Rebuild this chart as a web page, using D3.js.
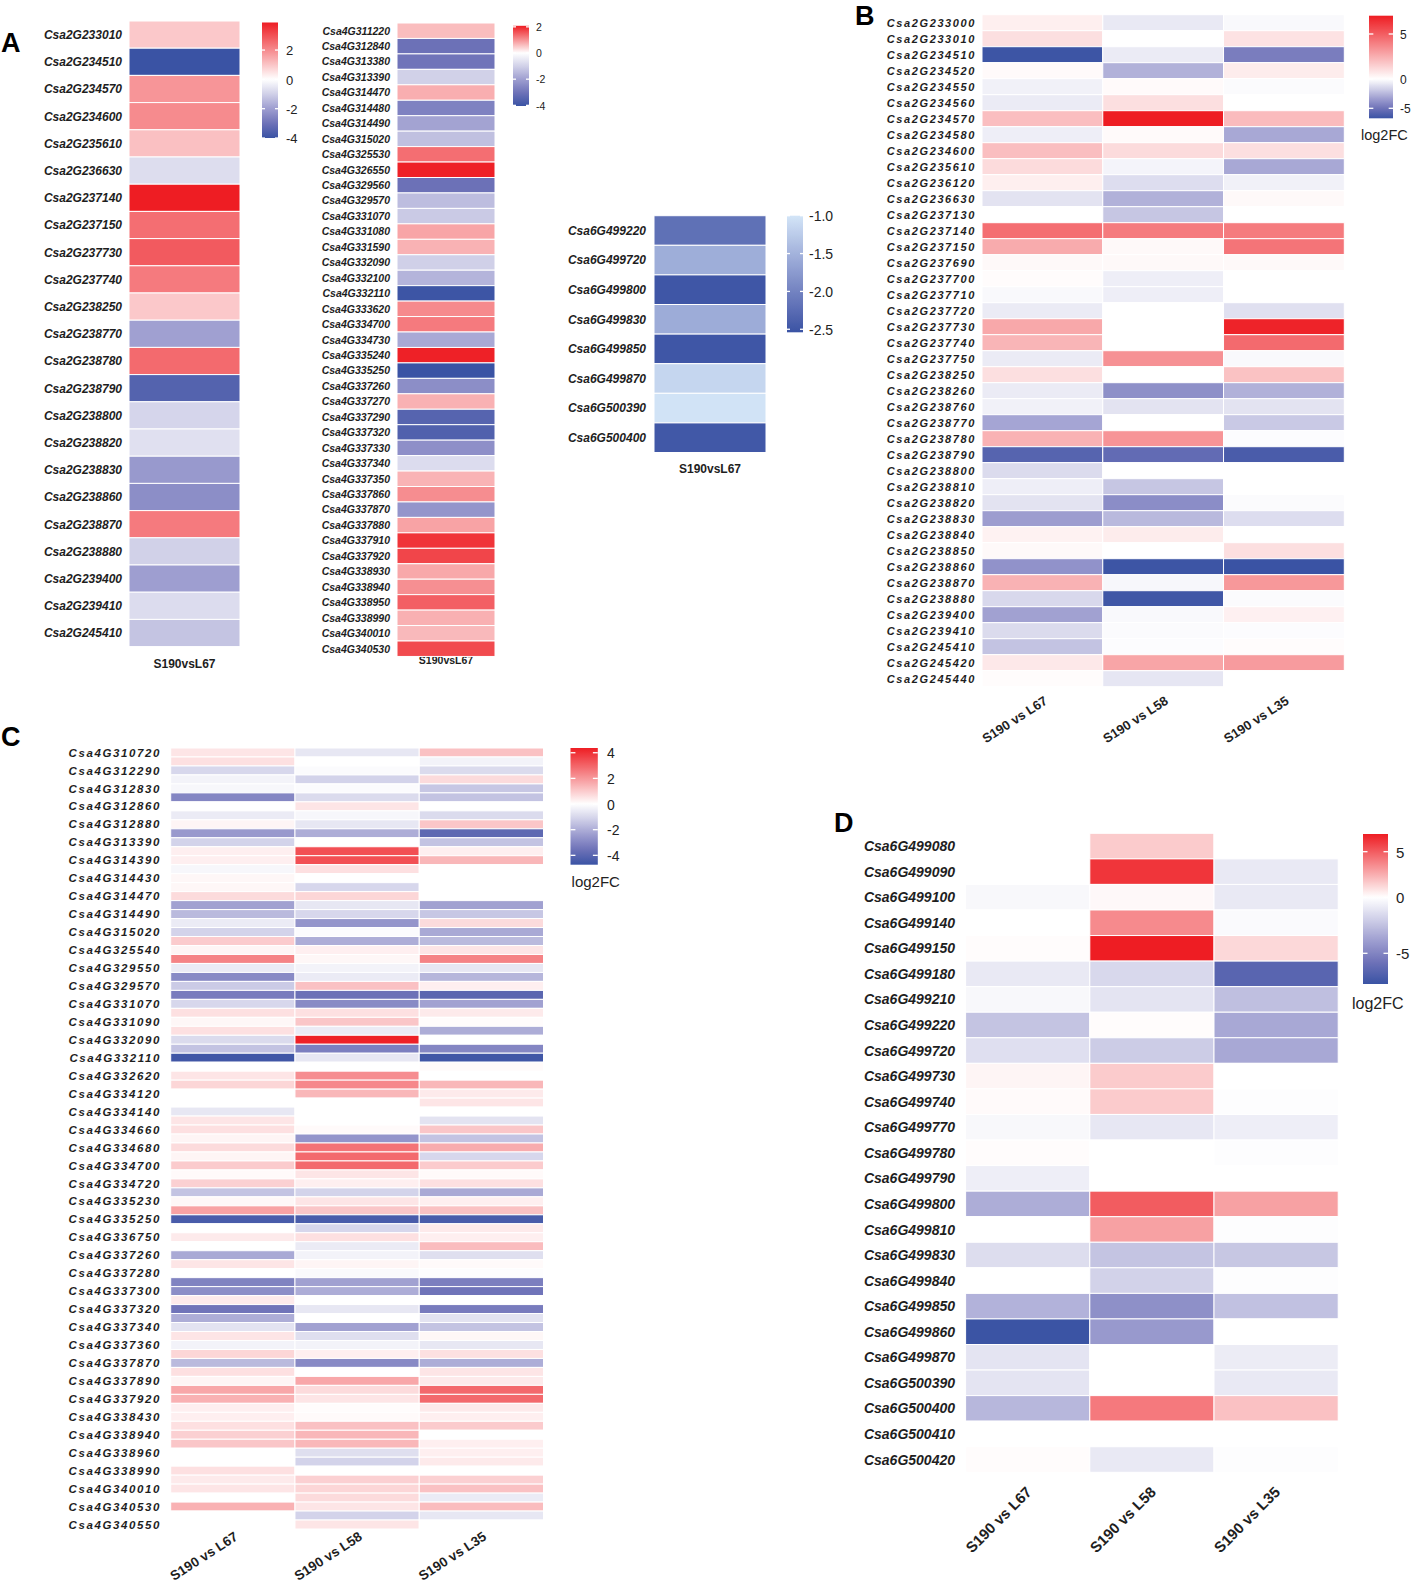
<!DOCTYPE html>
<html><head><meta charset="utf-8">
<script src="https://cdn.jsdelivr.net/npm/d3@7"></script>
<style>body{margin:0;background:#fff} svg{display:block} text{font-family:"Liberation Sans",Arial,sans-serif}</style>
</head><body><svg id="c" width="1412" height="1586"></svg>
<script>
// ---------------- DATA ----------------
const singleComparison = ["S190vsL67"];
const comparisons = ["S190 vs L67", "S190 vs L58", "S190 vs L35"];

const aGenes1 = ["Csa2G233010","Csa2G234510","Csa2G234570","Csa2G234600","Csa2G235610","Csa2G236630","Csa2G237140","Csa2G237150","Csa2G237730","Csa2G237740","Csa2G238250","Csa2G238770","Csa2G238780","Csa2G238790","Csa2G238800","Csa2G238820","Csa2G238830","Csa2G238860","Csa2G238870","Csa2G238880","Csa2G239400","Csa2G239410","Csa2G245410"];
const aVals1 = [0.94,-4.0,1.82,2.0,1.08,-0.72,3.88,2.49,2.83,2.28,0.94,-1.96,2.56,-3.5,-0.89,-0.67,-2.12,-2.37,2.28,-0.98,-2.0,-0.75,-1.25];
const aTicks1 = [2,0,-2,-4];
const aLim1 = [-4.0, 3.88];

const aGenes2 = ["Csa4G311220","Csa4G312840","Csa4G313380","Csa4G313390","Csa4G314470","Csa4G314480","Csa4G314490","Csa4G315020","Csa4G325530","Csa4G326550","Csa4G329560","Csa4G329570","Csa4G331070","Csa4G331080","Csa4G331590","Csa4G332090","Csa4G332100","Csa4G332110","Csa4G333620","Csa4G334700","Csa4G334730","Csa4G335240","Csa4G335250","Csa4G337260","Csa4G337270","Csa4G337290","Csa4G337320","Csa4G337330","Csa4G337340","Csa4G337350","Csa4G337860","Csa4G337870","Csa4G337880","Csa4G337910","Csa4G337920","Csa4G338930","Csa4G338940","Csa4G338950","Csa4G338990","Csa4G340010","Csa4G340530"];
const aVals2 = [0.61,-3.08,-3.0,-1.0,0.75,-2.67,-1.92,-1.33,1.33,2.04,-3.07,-1.4,-1.13,0.83,0.71,-1.02,-1.58,-4.0,1.08,1.22,-1.8,2.04,-4.05,-2.4,0.72,-3.5,-3.6,-2.36,-0.76,0.7,1.05,-2.24,0.85,1.87,1.71,0.8,1.03,1.47,0.73,0.64,1.67];
const aTicks2 = [2,0,-2,-4];
const aLim2 = [-4.05, 2.08];

const aGenes3 = ["Csa6G499220","Csa6G499720","Csa6G499800","Csa6G499830","Csa6G499850","Csa6G499870","Csa6G500390","Csa6G500400"];
const aVals3 = [-2.2,-1.55,-2.5,-1.57,-2.5,-1.15,-1.02,-2.48];
const aTicks3 = [-1.0,-1.5,-2.0,-2.5];
const aLim3 = [-2.54, -1.0];

const bGenes = ["Csa2G233000","Csa2G233010","Csa2G234510","Csa2G234520","Csa2G234550","Csa2G234560","Csa2G234570","Csa2G234580","Csa2G234600","Csa2G235610","Csa2G236120","Csa2G236630","Csa2G237130","Csa2G237140","Csa2G237150","Csa2G237690","Csa2G237700","Csa2G237710","Csa2G237720","Csa2G237730","Csa2G237740","Csa2G237750","Csa2G238250","Csa2G238260","Csa2G238760","Csa2G238770","Csa2G238780","Csa2G238790","Csa2G238800","Csa2G238810","Csa2G238820","Csa2G238830","Csa2G238840","Csa2G238850","Csa2G238860","Csa2G238870","Csa2G238880","Csa2G239400","Csa2G239410","Csa2G245410","Csa2G245420","Csa2G245440"];
const bL67 = [0.5,1.0,-6.6,0.15,-0.5,-0.7,2.0,-0.6,2.0,1.1,0.5,-1.0,0,4.5,2.6,0.2,0.1,-0.2,-0.7,2.7,2.3,-0.7,1.0,-0.7,-0.5,-3.1,2.4,-5.8,-1.3,-0.6,-1.0,-3.4,0.4,0.2,-3.8,2.4,-1.4,-3.25,-1.3,-2.1,0.7,0.1];
const bL58 = [-0.8,0,-0.7,-2.7,0.15,1.0,7.0,0.15,1.1,-0.4,-1.2,-2.7,-2.0,4.1,0.2,0.2,-0.6,-0.6,0,0,0,3.4,0,-3.9,-1.0,0,3.3,-5.4,0,-2.0,-4.0,-2.45,0.6,0,-6.6,-0.3,-6.5,-0.2,-0.15,-0.1,2.8,-0.9];
const bL35 = [-0.2,0.9,-4.6,0.6,-0.15,0,2.1,-3.0,1.0,-3.0,-0.5,0.2,0,4.1,4.3,0.2,0,0,-1.1,6.8,4.6,-0.2,1.9,-2.7,-1.0,-1.9,-0.1,-6.2,0,0,-0.15,-1.2,0,1.0,-6.7,3.2,-0.15,0.45,-0.1,0.1,3.1,0];
const bTicks = [5,0,-5];
const bLim = [-6.7, 7.0];

const cLabels = ["Csa4G310720","Csa4G312290","Csa4G312830","Csa4G312860","Csa4G312880","Csa4G313390","Csa4G314390","Csa4G314430","Csa4G314470","Csa4G314490","Csa4G315020","Csa4G325540","Csa4G329550","Csa4G329570","Csa4G331070","Csa4G331090","Csa4G332090","Csa4G332110","Csa4G332620","Csa4G334120","Csa4G334140","Csa4G334660","Csa4G334680","Csa4G334700","Csa4G334720","Csa4G335230","Csa4G335250","Csa4G336750","Csa4G337260","Csa4G337280","Csa4G337300","Csa4G337320","Csa4G337340","Csa4G337360","Csa4G337870","Csa4G337890","Csa4G337920","Csa4G338430","Csa4G338940","Csa4G338960","Csa4G338990","Csa4G340010","Csa4G340530","Csa4G340550"];
const cL67 = [0.5,0.6,-1.0,-0.3,-0.2,-3.0,0,-0.5,0.2,-2.5,-1.1,0.3,0.3,-0.2,0.15,0.15,0.7,-2.3,-1.7,-0.5,-1.1,1.0,0.2,2.4,-0.5,-2.9,-1.3,-3.3,-1.0,0.6,0.15,0.6,-0.9,-1.5,-4.6,0,0.5,0.8,0,0,-0.6,0.5,0.6,0.2,0.7,0.2,1.0,0.1,0.9,-1.5,0.15,1.8,-4.4,0,0.4,0,-2.1,0.5,0,-3.1,-2.8,0.4,-3.5,-2.0,-0.7,0.5,-0.3,0.8,-1.7,0.6,0.2,1.7,1.5,0.3,0.3,0.6,0.9,1.1,0,0,0.6,0.4,0.5,0,1.5,0,0];
const cL58 = [-0.6,0,-0.1,-1.1,-0.1,-0.9,0.5,-0.2,-0.6,-2.0,0,3.4,3.4,0.6,0,-1.0,0.8,-0.6,-1.0,-2.6,-0.1,-2.0,0.3,0.15,-0.3,-0.5,1.2,-3.6,-2.9,0.6,1.1,-0.5,4.3,-3.2,-0.6,0,2.2,2.3,1.4,0,0,0,0.1,-2.6,2.7,2.9,2.9,0.5,0.3,-1.1,0.5,1.1,-4.4,-1.0,0.6,-0.5,-0.3,0.2,-0.15,-2.3,-2.0,0,-0.6,0,-2.3,-0.8,-0.3,0.3,-2.9,0,1.7,0.7,0.5,0.05,0.1,1.2,1.4,1.4,-0.8,-1.1,0,0.9,0.8,0.7,0.5,-1.1,0.5];
const cL35 = [1.2,-0.3,-0.9,0.7,-1.4,-1.5,0,-0.9,1.1,-3.9,-1.5,0.3,1.4,0,0,0,0,-2.3,-1.4,0.7,-2.1,-1.7,0.5,2.4,-0.6,-1.8,0.3,-4.0,-2.3,0.4,0.05,-2.0,0,-3.0,-4.6,0.1,0,1.4,0.4,0.5,0,-0.7,1.1,-1.5,1.6,-1.0,1.0,0.1,0.6,-2.1,0.3,1.2,-4.4,0.4,0.3,1.3,-0.8,0.1,-0.05,-3.2,-3.5,0,-3.3,-0.7,-1.5,0.15,-0.6,0.6,-2.0,0.5,0.4,2.9,2.9,0.4,0.3,1.0,0,0.3,0.3,0.4,0,0.9,1.2,-0.5,1.3,-0.6,0];
const cTicks = [4,2,0,-2,-4];
const cLim = [-4.73, 4.37];

const dGenes = ["Csa6G499080","Csa6G499090","Csa6G499100","Csa6G499140","Csa6G499150","Csa6G499180","Csa6G499210","Csa6G499220","Csa6G499720","Csa6G499730","Csa6G499740","Csa6G499770","Csa6G499780","Csa6G499790","Csa6G499800","Csa6G499810","Csa6G499830","Csa6G499840","Csa6G499850","Csa6G499860","Csa6G499870","Csa6G500390","Csa6G500400","Csa6G500410","Csa6G500420"];
const dL67 = [0,0,-0.3,0,0.1,-0.9,-0.3,-2.4,-1.3,0.3,0.15,-0.3,0.1,-0.7,-3.3,0,-1.4,0,-3.1,-7.7,-1.1,-1.1,-2.9,0,0.1];
const dL58 = [1.6,6.2,0.2,3.6,6.94,-1.6,-1.1,0.1,-2.1,1.6,1.6,-1.0,0,0,5.0,2.9,-2.4,-1.85,-4.5,-4.1,0,0,4.1,0,-0.9];
const dL35 = [0,-0.9,-0.9,-0.2,1.2,-6.6,-2.6,-3.5,-3.5,0,-0.1,-0.7,-0.1,0,2.9,-0.1,-2.3,-0.1,-2.5,0,-0.8,-0.9,1.9,0,-0.1];
const dTicks = [5,0,-5];
const dLim = [-7.74, 6.94];

// ---------------- HELPERS ----------------
const svg = d3.select("#c");
svg.append("rect").attr("width",1412).attr("height",1586).attr("fill","#fff");
const defs = svg.append("defs");
const FONT = '"Liberation Sans", Arial, sans-serif';
const INK = "#1e1e1e";
let gid = 0;

function divColor(lo, hi){
  return d3.scaleLinear()
    .domain([lo, lo*0.75, lo*0.5, lo*0.25, 0, hi*0.5, hi])
    .range(["#3A53A4","#6E72B8","#9E9ED0","#D0D0E8","#FFFFFF","#F68E91","#EE1D23"])
    .clamp(true);
}
function seqBlue(lo, hi){
  return d3.scaleLinear().domain([lo, hi]).range(["#3A53A4","#D3E5F7"])
    .interpolate(d3.interpolateLab).clamp(true);
}

function drawHeatmap(o){
  const g = svg.append("g");
  const y = d3.scaleBand().domain(o.rowKeys).range([o.y0, o.y0 + o.rowH*o.rowKeys.length]);
  const x = d3.scaleBand().domain(o.cols).range([o.x0, o.x1]);
  const xa = g.append("g").attr("transform",`translate(0,${o.xLabY})`)
    .call(d3.axisBottom(x).tickSize(0));
  xa.select(".domain").remove();
  xa.attr("font-family", FONT).attr("font-size", o.xFont);
  xa.selectAll("text").attr("y",0).attr("dy",0)
    .attr("fill", INK).attr("font-weight", "bold");
  if (o.xRot){
    xa.selectAll("text").attr("text-anchor","end")
      .attr("transform",`translate(${o.xDx},0) rotate(${-o.xRot})`);
  }
  o.series.forEach((vals, ci) => {
    g.append("g").selectAll("rect").data(vals).join("rect")
      .attr("x", x(o.cols[ci]))
      .attr("y", (d,i) => y(o.rowKeys[i]))
      .attr("width", x.bandwidth())
      .attr("height", y.bandwidth())
      .attr("fill", d => o.color(d))
      .attr("stroke", "#fff")
      .attr("stroke-width", o.sw || 1);
  });
  let ax = d3.axisLeft(y).tickSize(0).tickPadding(0);
  if (o.tickValues) ax = ax.tickValues(o.tickValues);
  if (o.tickFormat) ax = ax.tickFormat(o.tickFormat);
  const ya = g.append("g").attr("transform",`translate(${o.labelEnd},0)`).call(ax);
  ya.select(".domain").remove();
  ya.attr("font-family", FONT).attr("font-size", o.labFont);
  ya.selectAll("text").attr("fill", INK).attr("font-weight","bold").attr("font-style","italic")
    .style("letter-spacing", (o.labSpacing||0) + "px").attr("dy","0.36em");
}

function drawColorbar(o){
  const id = "grad" + (gid++);
  const grad = defs.append("linearGradient").attr("id", id)
    .attr("x1",0).attr("y1",0).attr("x2",0).attr("y2",1);
  const N = 80;
  d3.range(N+1).forEach(i => {
    const t = i/N;
    const yy = o.y0 + t*(o.y1 - o.y0);
    grad.append("stop").attr("offset", t).attr("stop-color", o.color(o.pos.invert(yy)));
  });
  svg.append("rect").attr("x", o.x0).attr("y", o.y0)
    .attr("width", o.x1 - o.x0).attr("height", o.y1 - o.y0)
    .attr("fill", `url(#${id})`);
  const dash = Math.max(3, (o.x1-o.x0)*0.18);
  o.ticks.forEach(v => {
    const yy = o.pos(v);
    svg.append("line").attr("x1", o.x0).attr("x2", o.x0+dash).attr("y1", yy).attr("y2", yy)
      .attr("stroke","#fff").attr("stroke-width",1.3);
    svg.append("line").attr("x1", o.x1-dash).attr("x2", o.x1).attr("y1", yy).attr("y2", yy)
      .attr("stroke","#fff").attr("stroke-width",1.3);
  });
  const ga = svg.append("g").attr("transform",`translate(${o.labelX},0)`)
    .call(d3.axisRight(o.pos).tickValues(o.ticks).tickSize(0).tickPadding(0)
      .tickFormat(o.fmt || (d => String(d))));
  ga.select(".domain").remove();
  ga.attr("font-family", FONT).attr("font-size", o.font);
  ga.selectAll("text").attr("fill", "#222").attr("dy","0.36em");
  if (o.title){
    svg.append("text").attr("x", o.titleX).attr("y", o.titleY)
      .attr("font-family", FONT).attr("font-size", o.titleFont).attr("fill","#222").text(o.title);
  }
}

function panelLetter(t, x, y){
  svg.append("text").attr("x", x).attr("y", y).attr("font-family", FONT)
    .attr("font-size", 27).attr("font-weight","bold").attr("fill","#000").text(t);
}

// ---------------- PANEL A ----------------
panelLetter("A", 1, 52);
const cA1 = divColor(aLim1[0], aLim1[1]);
drawHeatmap({rowKeys:aGenes1, cols:singleComparison, series:[aVals1], x0:129, x1:240, y0:21, rowH:27.2,
  color:cA1, labelEnd:122, labFont:12, xLabY:668, xFont:12});
drawColorbar({x0:262, x1:278, y0:22.5, y1:138, pos:d3.scaleLinear().domain(aLim1).range([138,22.5]),
  color:cA1, ticks:aTicks1, labelX:286, font:13});

const cA2 = divColor(aLim2[0], aLim2[1]);
drawHeatmap({rowKeys:aGenes2, cols:singleComparison, series:[aVals2], x0:397, x1:495, y0:23, rowH:15.45,
  color:cA2, labelEnd:390, labFont:10.5, xLabY:664, xFont:10.5});
drawColorbar({x0:513, x1:529, y0:25.8, y1:106, pos:d3.scaleLinear().domain(aLim2).range([106,25.8]),
  color:cA2, ticks:aTicks2, labelX:536, font:10.5});

const cA3 = seqBlue(aLim3[0], aLim3[1]);
drawHeatmap({rowKeys:aGenes3, cols:singleComparison, series:[aVals3], x0:654, x1:766, y0:215.7, rowH:29.6,
  color:cA3, labelEnd:646, labFont:12, xLabY:473, xFont:12});
drawColorbar({x0:787, x1:803, y0:215.7, y1:332.3, pos:d3.scaleLinear().domain(aLim3).range([332.3,215.7]),
  color:cA3, ticks:aTicks3, labelX:809, font:14, fmt:d => d.toFixed(1)});

// ---------------- PANEL B ----------------
panelLetter("B", 855, 25);
const cB = divColor(bLim[0], bLim[1]);
drawHeatmap({rowKeys:bGenes, cols:comparisons, series:[bL67,bL58,bL35], x0:982, x1:1344.3, y0:14.7, rowH:16.0,
  color:cB, labelEnd:976, labFont:11, labSpacing:1.6, xLabY:703, xFont:13, xRot:33, xDx:6});
drawColorbar({x0:1369, x1:1393, y0:15.7, y1:118.3,
  pos:d3.scaleLinear().domain([bLim[0],-5,0,5,bLim[1]]).range([118.3,108.3,79,34,15.7]),
  color:cB, ticks:bTicks, labelX:1400, font:12, title:"log2FC", titleX:1361, titleY:140, titleFont:14.5});

// ---------------- PANEL C ----------------
panelLetter("C", 1, 746);
const cC = divColor(cLim[0], cLim[1]);
const cRows = d3.range(cL67.length);
drawHeatmap({rowKeys:cRows, cols:comparisons, series:[cL67,cL58,cL35], x0:170.7, x1:543.5, y0:748, rowH:8.977,
  color:cC, labelEnd:161, labFont:11.5, labSpacing:1.6,
  tickValues:cRows.filter(i => i % 2 === 0), tickFormat:i => cLabels[i/2],
  xLabY:1539, xFont:13.5, xRot:33, xDx:6});
drawColorbar({x0:570.5, x1:597.8, y0:748, y1:864.7, pos:d3.scaleLinear().domain(cLim).range([864.7,748]),
  color:cC, ticks:cTicks, labelX:607, font:14, title:"log2FC", titleX:571.6, titleY:887, titleFont:15});

// ---------------- PANEL D ----------------
panelLetter("D", 834, 832);
const cD = divColor(dLim[0], dLim[1]);
drawHeatmap({rowKeys:dGenes, cols:comparisons, series:[dL67,dL58,dL35], x0:965.6, x1:1338.2, y0:833.3, rowH:25.56,
  color:cD, labelEnd:955, labFont:14, xLabY:1493, xFont:15, xRot:45, xDx:5});
drawColorbar({x0:1363, x1:1388, y0:834, y1:984,
  pos:d3.scaleLinear().domain([dLim[0],-5,0,5,dLim[1]]).range([984,953.3,897.3,851.7,834]),
  color:cD, ticks:dTicks, labelX:1396, font:15, title:"log2FC", titleX:1352, titleY:1009, titleFont:16});
</script></body></html>
